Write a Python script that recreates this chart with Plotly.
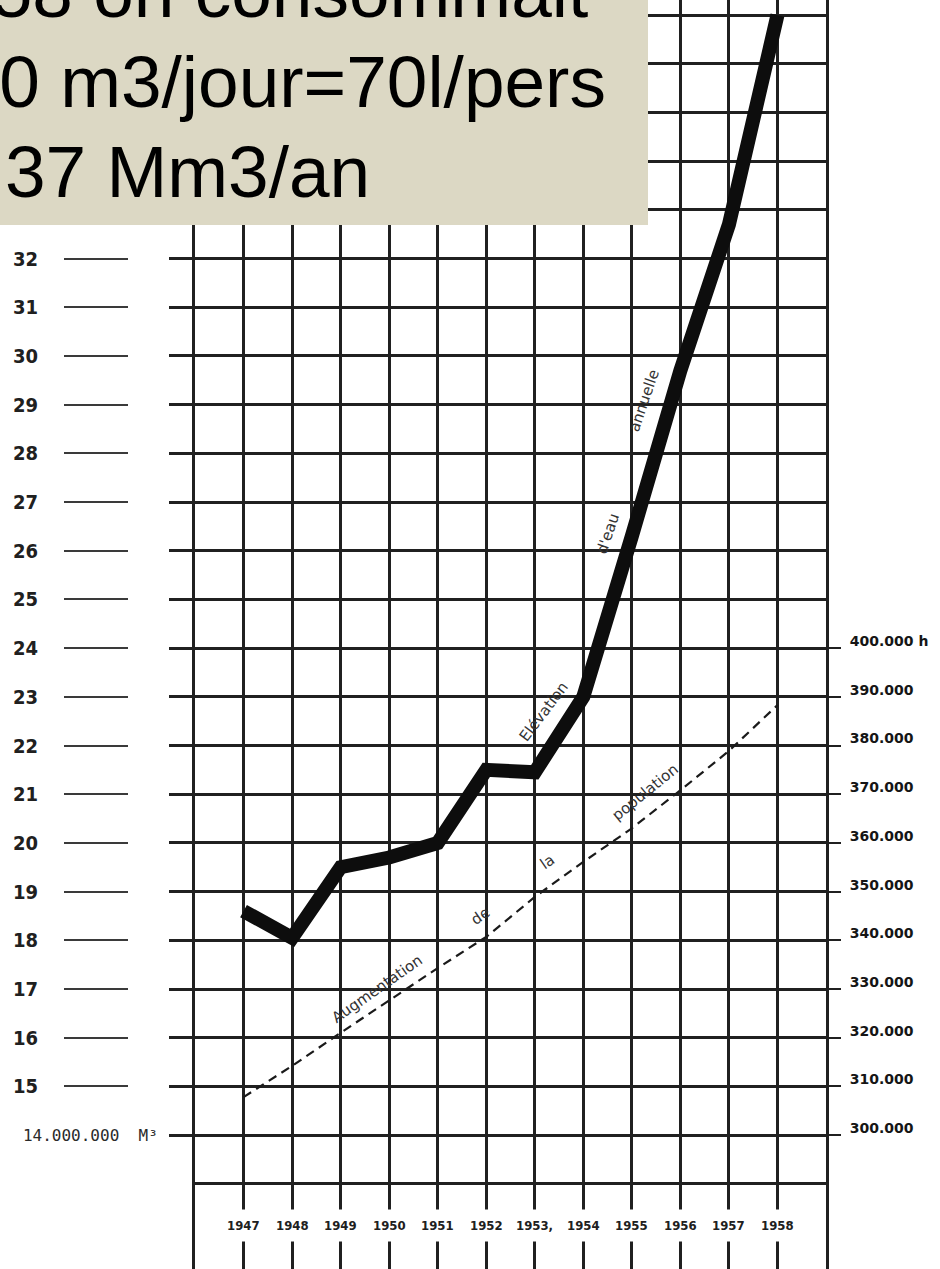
import plotly.graph_objects as go

# ---------------- data ----------------
years = [1947, 1948, 1949, 1950, 1951, 1952, 1953, 1954, 1955, 1956, 1957, 1958]
year_labels = ["1947", "1948", "1949", "1950", "1951", "1952", "1953,", "1954",
               "1955", "1956", "1957", "1958"]
# annual water consumption, millions of m3
consumption = [18.6, 18.05, 19.5, 19.7, 20.0, 21.5, 21.45, 23.0, 26.3, 29.7, 32.7, 37.0]
# population (inhabitants)
population = [307800, 314200, 321000, 327700, 334300, 340700, 348900, 356100,
              363000, 370800, 378900, 388300]

left_ticks = [15, 16, 17, 18, 19, 20, 21, 22, 23, 24, 25, 26, 27, 28, 29, 30, 31, 32]
left_tick_labels = ["15", "16", "17", "18", "19", "20", "21", "22", "23", "24",
                    "25", "26", "27", "28", "29", "30", "31", "32"]
base_tick = 14
base_tick_label = "14.000.000  M³"
grid_rows = [14, 15, 16, 17, 18, 19, 20, 21, 22, 23, 24, 25, 26, 27, 28, 29, 30, 31, 32]
extra_rows = [13, 33, 34, 35, 36, 37]
grid_cols = [1946, 1947, 1948, 1949, 1950, 1951, 1952, 1953, 1954, 1955, 1956,
             1957, 1958, 1959]

right_ticks = [300000, 310000, 320000, 330000, 340000, 350000, 360000, 370000,
               380000, 390000, 400000]
right_tick_labels = ["300.000", "310.000", "320.000", "330.000", "340.000", "350.000",
                     "360.000", "370.000", "380.000", "390.000", "400.000 h"]

box_lines = ["En 1958 on consommait", "100 000 m3/jour=70l/pers", "37 Mm3/an"]

curve_words = [  # (text, year-position, value on left scale, angle)
    ("Augmentation", 1949.75, 17.0, -35),
    ("de", 1951.88, 18.5, -35),
    ("la", 1953.26, 19.6, -35),
    ("population", 1955.28, 21.05, -39),
    ("Elévation", 1953.2, 22.7, -53),
    ("d'eau", 1954.5, 26.35, -71),
    ("annuelle", 1955.25, 29.1, -71),
]

# ---------------- layout constants ----------------
W, H = 940, 1269
X0, X1 = 195, 826                  # plot area in px
Y_RANGE = [11.25, 37.31]           # left scale (millions of m3)
POP_AT_24 = 400000                 # right scale alignment
POP_PER_UNIT = 10000
Y2_RANGE = [(v - 24) * POP_PER_UNIT + POP_AT_24 for v in Y_RANGE]
GRID = "#202020"
INK = "#1a1a1a"
NARROW = "Liberation Sans Narrow, DejaVu Sans Condensed, Liberation Sans, sans-serif"

fig = go.Figure()

fig.add_trace(go.Scatter(
    x=years, y=population, yaxis="y2", mode="lines",
    line=dict(color=INK, width=2.2, dash="9px,6px"),
    hoverinfo="skip", showlegend=False))

fig.add_trace(go.Scatter(
    x=years, y=consumption, mode="lines",
    line=dict(color="#0d0d0d", width=14),
    hoverinfo="skip", showlegend=False))

# dummy trace so the free label axis is drawn
fig.add_trace(go.Scatter(x=[None], y=[None], yaxis="y3", showlegend=False,
                         hoverinfo="skip"))

fig.update_layout(
    width=W, height=H,
    margin=dict(l=0, r=0, t=0, b=0),
    paper_bgcolor="white", plot_bgcolor="white",
    showlegend=False,
    xaxis=dict(
        domain=[X0 / W, X1 / W], range=[1946, 1959],
        tickmode="array", tickvals=grid_cols, showticklabels=False, ticks="",
        showgrid=True, gridcolor=GRID, gridwidth=2.5,
        showline=True, linecolor=GRID, linewidth=3, zeroline=False,
    ),
    yaxis=dict(
        domain=[0, 1], range=Y_RANGE,
        tickmode="array", tickvals=grid_rows,
        ticktext=[base_tick_label if v == base_tick else "" for v in grid_rows],
        ticks="outside", ticklen=23, tickwidth=2.5, tickcolor=GRID,
        ticklabelstandoff=8,
        tickfont=dict(family="DejaVu Sans Mono, monospace", size=16, color="#2a2a2a"),
        showgrid=True, gridcolor=GRID, gridwidth=2.5,
        minor=dict(tickmode="array", tickvals=extra_rows, showgrid=True,
                   gridcolor=GRID, gridwidth=2.5, ticks=""),
        showline=True, linecolor=GRID, linewidth=3, mirror=True, zeroline=False,
    ),
    yaxis2=dict(
        overlaying="y", side="right", anchor="x", range=Y2_RANGE,
        tickmode="array", tickvals=right_ticks, ticktext=right_tick_labels,
        ticks="outside", ticklen=14, tickwidth=2, tickcolor=GRID,
        ticklabelstandoff=6, ticklabelshift=-7,
        tickfont=dict(family="DejaVu Sans", size=14, color="#151515", weight="bold"),
        showgrid=False, showline=False, zeroline=False,
    ),
    yaxis3=dict(
        overlaying="y", side="left", anchor="free", position=128 / W, range=Y_RANGE,
        tickmode="array", tickvals=left_ticks, ticktext=left_tick_labels,
        ticks="outside", ticklen=64, tickwidth=1.6, tickcolor="#3a3a3a",
        ticklabelstandoff=22,
        tickfont=dict(family=NARROW, size=20, color="#202020", weight="bold"),
        showgrid=False, showline=False, zeroline=False,
    ),
)

# beige text box
fig.add_shape(type="rect", xref="paper", yref="paper",
              x0=0, x1=648 / W, y0=1 - 225 / H, y1=1,
              fillcolor="#DCD8C4", line=dict(width=0), layer="above")

box_font = dict(family="Liberation Sans, Arial, sans-serif", size=73, color="black")
# (anchor x px, anchor side, baseline px)
box_pos = [(589, "right", 17), (607, "right", 107), (4, "left", 197)]
for txt, (px, side, base) in zip(box_lines, box_pos):
    fig.add_annotation(text=txt, xref="paper", yref="paper",
                       x=px / W, xanchor=side,
                       y=1 - (base - 0.3465 * 73) / H, yanchor="middle",
                       showarrow=False, font=box_font, borderpad=0)

# year labels in the bottom strip
for yr, lab in zip(years, year_labels):
    fig.add_annotation(text=lab, x=yr, y=12.15, xref="x", yref="y",
                       showarrow=False, bgcolor="white", borderpad=8,
                       font=dict(family=NARROW, size=13, color="#202020", weight="bold"))

# handwritten words along the curves
for txt, xv, yv, ang in curve_words:
    fig.add_annotation(text=txt, x=xv, y=yv, xref="x", yref="y", showarrow=False,
                       textangle=ang,
                       font=dict(family="DejaVu Sans", size=15, color="#333333"))

fig.write_html("out.html", config={"displayModeBar": False},
               post_script="document.body.style.margin='0';")
